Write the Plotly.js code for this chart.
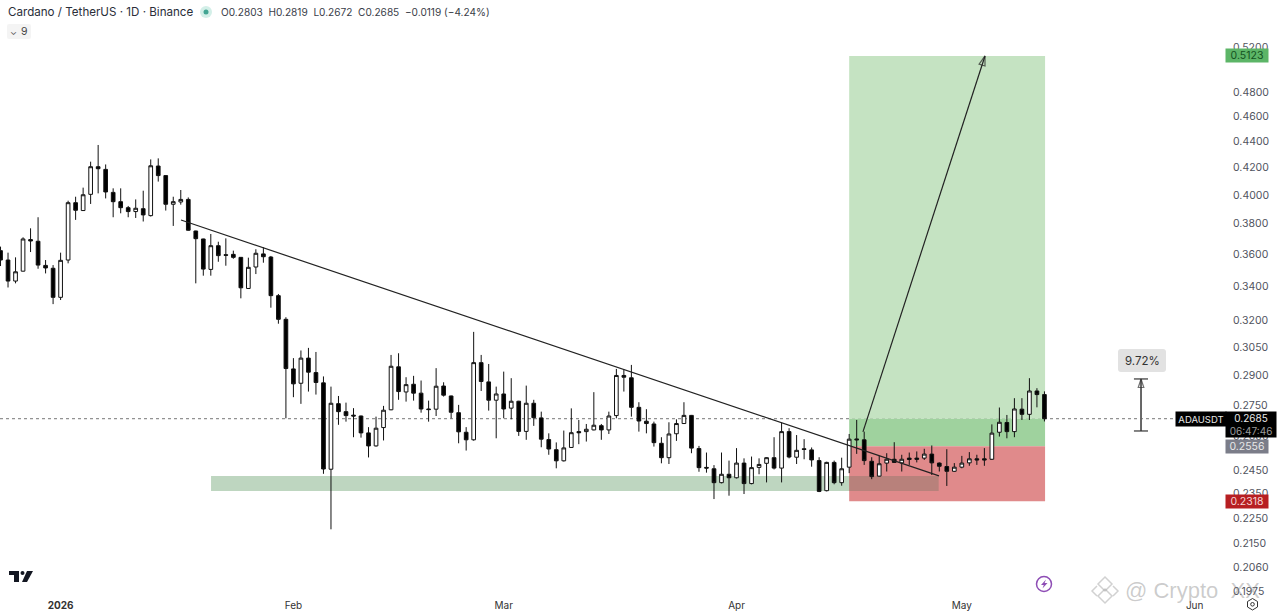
<!DOCTYPE html>
<html>
<head>
<meta charset="utf-8">
<script src="https://cdn.plot.ly/plotly-3.0.1.min.js"></script>
<style>html,body{margin:0;padding:0;background:#fff;overflow:hidden}#c{width:1280px;height:614px}</style>
</head>
<body>
<div id="c"></div>
<script>
const firstDay = '2025-12-24';
const opens = [.3622,.3562,.3431,.3492,.3694,.3683,.3528,.3510,.3333,.3562,.3945,.3890,.4004,.4206,.4186,.4018,.3952,.3910,.3883,.3903,
.3855,.4211,.4140,.3934,.3950,.3968,.3751,.3698,.3503,.3654,.3596,.3598,.3579,.3386,.3518,.3601,.3581,.3343,.3205,.2934,.2860,
.2991,.2915,.2862,.2454,.2758,.2719,.2702,.2698,.2618,.2558,.2643,.2728,.2945,.2816,.2855,.2810,.2732,.2731,.2846,.2796,
.2714,.2621,.2586,.2967,.2867,.2775,.2806,.2736,.2770,.2625,.2760,.2689,.2587,.2541,.2491,.2551,.2624,.2624,.2632,.2652,
.2632,.2700,.2900,.2888,.2740,.2673,.2660,.2570,.2505,.2614,.2662,.2701,.2546,.2462,.2456,.2396,.2432,.2417,.2481,.2392,
.2462,.2480,.2505,.2459,.2624,.2507,.2545,.2540,.2492,.2362,.2484,.2396,.2463,.2590,.2586,.2489,.2424,.2481,.2498,.2482,
.2503,.2503,.2503,.2521,.2481,.2466,.2445,.2463,.2482,.2500,.2500,.2498,.2621,.2667,.2624,.2731,.2706,.2821,.2803];
const highs = [.3648,.3609,.3579,.3709,.3769,.3844,.3562,.3530,.3609,.3959,.3987,.4052,.4244,.4372,.4223,.4047,.4047,.3922,.3968,.4030,
.4261,.4269,.4142,.3987,.4035,.3982,.3753,.3700,.3731,.3680,.3702,.3622,.3581,.3577,.3631,.3644,.3588,.3353,.3217,.2991,.3032,
.3046,.3024,.2895,.2843,.2796,.2763,.2736,.2700,.2645,.2695,.2747,.3008,.3017,.2891,.2898,.2874,.2773,.2938,.2865,.2798,
.2752,.2645,.3134,.3008,.2960,.2843,.2920,.2886,.2772,.2848,.2777,.2719,.2616,.2574,.2629,.2735,.2679,.2660,.2815,.2660,
.2719,.2934,.2932,.2955,.2765,.2731,.2671,.2598,.2668,.2682,.2765,.2703,.2558,.2528,.2472,.2528,.2492,.2548,.2502,.2510,
.2502,.2507,.2598,.2667,.2640,.2608,.2589,.2551,.2507,.2487,.2492,.2505,.2613,.2679,.2624,.2507,.2513,.2525,.2575,.2518,
.2528,.2533,.2545,.2560,.2484,.2543,.2481,.2513,.2530,.2518,.2548,.2658,.2739,.2703,.2785,.2785,.2886,.2835,.2819];
const lows = [.3524,.3392,.3417,.3490,.3613,.3507,.3478,.3293,.3317,.3541,.3826,.3888,.3936,.4011,.3975,.3844,.3871,.3844,.3839,.3815,
.3849,.4096,.3890,.3785,.3931,.3753,.3417,.3464,.3464,.3551,.3526,.3570,.3327,.3384,.3474,.3545,.3272,.3180,.2687,.2790,.2757,
.2818,.2803,.2434,.2205,.2656,.2671,.2598,.2596,.2506,.2555,.2583,.2726,.2777,.2768,.2773,.2714,.2671,.2698,.2793,.2687,
.2570,.2537,.2582,.2821,.2724,.2593,.2687,.2682,.2604,.2586,.2651,.2552,.2518,.2458,.2488,.2549,.2566,.2578,.2630,.2586,
.2613,.2687,.2818,.2695,.2624,.2616,.2555,.2480,.2477,.2581,.2660,.2525,.2443,.2439,.2327,.2393,.2341,.2414,.2348,.2389,
.2432,.2397,.2453,.2397,.2502,.2477,.2498,.2465,.2356,.2359,.2389,.2383,.2437,.2522,.2473,.2411,.2422,.2444,.2483,.2444,
.2473,.2484,.2495,.2429,.2444,.2382,.2443,.2458,.2469,.2473,.2469,.2495,.2601,.2593,.2598,.2679,.2679,.2740,.2672];
const closes = [.3562,.3431,.3488,.3698,.3685,.3530,.3512,.3333,.3560,.3945,.3892,.4001,.4206,.4191,.4021,.3952,.3910,.3883,.3906,.3860,
.4213,.4140,.3934,.3952,.3968,.3756,.3700,.3505,.3654,.3590,.3592,.3579,.3390,.3516,.3605,.3583,.3343,.3205,.2936,.2857,.2991,
.2917,.2864,.2455,.2760,.2719,.2700,.2698,.2618,.2558,.2640,.2726,.2948,.2818,.2853,.2810,.2732,.2729,.2845,.2800,.2716,
.2623,.2586,.2967,.2869,.2775,.2806,.2732,.2770,.2625,.2760,.2690,.2589,.2544,.2491,.2549,.2619,.2619,.2635,.2654,.2632,
.2698,.2900,.2891,.2740,.2674,.2662,.2573,.2505,.2613,.2662,.2701,.2548,.2461,.2459,.2396,.2432,.2417,.2481,.2392,.2461,
.2475,.2505,.2459,.2624,.2508,.2538,.2542,.2495,.2359,.2484,.2396,.2456,.2589,.2586,.2492,.2422,.2478,.2498,.2484,.2498,
.2497,.2498,.2521,.2482,.2467,.2445,.2463,.2481,.2500,.2495,.2495,.2617,.2668,.2624,.2732,.2706,.2821,.2803,.2685];

const priceTicks = [.56,.52,.48,.46,.44,.42,.40,.38,.36,.34,.32,.305,.29,.275,.26,.245,.235,.225,.215,.206,.1975];
const timeTicks = ['2026-01-01','2026-02-01','2026-03-01','2026-04-01','2026-05-01','2026-06-01'];
const timeLabels = ['<b>2026</b>','Feb','Mar','Apr','May','Jun'];

const lastPrice = 0.2685, targetPrice = 0.5123, entryPrice = 0.2556, stopPrice = 0.2318;

const W = 1280, H = 614, plotW = 1225, plotH = 594;
const px = x => x / plotW, py = y => 1 - y / plotH;
const lg = p => Math.log10(p);
const dates = opens.map((_, i) => new Date(Date.parse(firstDay + 'T00:00:00Z') + i * 864e5).toISOString().slice(0, 10));

const ink = '#111';
const candles = {
  type: 'candlestick', x: dates, open: opens, high: highs, low: lows, close: closes,
  increasing: {line: {color: ink, width: 1}, fillcolor: '#ffffff'},
  decreasing: {line: {color: ink, width: 1}, fillcolor: '#000000'},
  whiskerwidth: 0, hoverinfo: 'skip', showlegend: false
};
const arrow = {
  type: 'scatter', mode: 'lines+markers', x: ['2026-04-17 20:00', '2026-05-04 02:00'], y: [0.2623, targetPrice],
  line: {color: '#222', width: 1.2},
  marker: {symbol: ['circle', 'arrow-open'], size: [1, 10], angleref: 'previous', color: '#222', line: {color: '#222', width: 1.2}},
  hoverinfo: 'skip', showlegend: false
};
const measure = {
  type: 'scatter', mode: 'lines+markers', x: ['2026-05-24 20:40', '2026-05-24 20:40'], y: [0.2627, 0.2882],
  line: {color: '#666', width: 2},
  marker: {symbol: ['circle', 'arrow-open'], size: [1, 9], angleref: 'previous', color: '#333', line: {color: '#333', width: 1.2}},
  hoverinfo: 'skip', showlegend: false
};
const capLow = {type: 'scatter', mode: 'lines', x: ['2026-05-23 22:00', '2026-05-25 19:00'], y: [0.2627, 0.2627], line: {color: '#333', width: 1.2}, hoverinfo: 'skip', showlegend: false};
const capHigh = {type: 'scatter', mode: 'lines', x: ['2026-05-23 22:00', '2026-05-25 19:00'], y: [0.2882, 0.2882], line: {color: '#333', width: 1.2}, hoverinfo: 'skip', showlegend: false};

function rect(x0, x1, p0, p1, fill) {
  return {type: 'rect', xref: 'x', yref: 'y', x0, x1, y0: p0, y1: p1, fillcolor: fill, line: {width: 0}, layer: 'below'};
}
function pathPx(points, opt) {
  const d = points.map((p, i) => (i ? 'L' : 'M') + px(p[0]) + ',' + py(p[1])).join(' ') + (opt.open ? '' : ' Z');
  return {type: 'path', xref: 'paper', yref: 'paper', path: d, fillcolor: opt.fill || 'rgba(0,0,0,0)', line: {color: opt.stroke || 'rgba(0,0,0,0)', width: opt.w || 0}, layer: 'above'};
}
function circlePx(cx, cy, r, stroke, w) {
  return {type: 'circle', xref: 'paper', yref: 'paper', x0: px(cx - r), x1: px(cx + r), y0: py(cy + r), y1: py(cy - r), fillcolor: 'rgba(0,0,0,0)', line: {color: stroke, width: w}, layer: 'above'};
}
function roundBox(x0, y0, x1, y1, r, fill) {
  const X = px, Y = py;
  const d = `M${X(x0 + r)},${Y(y0)} L${X(x1 - r)},${Y(y0)} Q${X(x1)},${Y(y0)} ${X(x1)},${Y(y0 + r)} L${X(x1)},${Y(y1 - r)} Q${X(x1)},${Y(y1)} ${X(x1 - r)},${Y(y1)} L${X(x0 + r)},${Y(y1)} Q${X(x0)},${Y(y1)} ${X(x0)},${Y(y1 - r)} L${X(x0)},${Y(y0 + r)} Q${X(x0)},${Y(y0)} ${X(x0 + r)},${Y(y0)} Z`;
  return {type: 'path', xref: 'paper', yref: 'paper', path: d, fillcolor: fill, line: {width: 0}, layer: 'above'};
}

const shapes = [
  rect('2026-04-16', '2026-05-12 02:00', lastPrice, targetPrice, '#c5e3c2'),
  rect('2026-04-16', '2026-05-12 02:00', entryPrice, lastPrice, '#9fd29e'),
  rect('2026-04-16', '2026-05-12 02:00', stopPrice, entryPrice, '#e08a8b'),
  rect('2026-01-21 00:45', '2026-04-16', 0.2361, 0.2425, '#bed6c0'),
  rect('2026-04-16', '2026-04-27 22:00', 0.2361, 0.2425, '#b8817b'),
  {type: 'line', xref: 'paper', yref: 'y', x0: 0, x1: 1, y0: lastPrice, y1: lastPrice, line: {color: '#777', width: 1, dash: 'dot'}, layer: 'below'},
  {type: 'line', xref: 'x', yref: 'y', x0: '2026-01-17 00:45', x1: '2026-04-27 23:00', y0: 0.3825, y1: 0.2425, line: {color: '#222', width: 1.2}, layer: 'above'},
  roundBox(7, 24, 31, 39, 2, 'rgba(235,235,235,0.55)'),
  pathPx([[9, 571], [19, 571], [19, 582], [14, 582], [14, 575], [9, 575]], {fill: '#131722'}),
  pathPx([[27, 571], [33, 571], [27, 582], [22, 582]], {fill: '#131722'}),
  {type: 'circle', xref: 'paper', yref: 'paper', x0: px(20.5), x1: px(24.5), y0: py(575), y1: py(571), fillcolor: '#131722', line: {width: 0}, layer: 'above'},
  {type: 'circle', xref: 'paper', yref: 'paper', x0: px(200), x1: px(212), y0: py(18), y1: py(6), fillcolor: '#d3efe8', line: {width: 0}, layer: 'above'},
  {type: 'circle', xref: 'paper', yref: 'paper', x0: px(203.5), x1: px(208.5), y0: py(14.5), y1: py(9.5), fillcolor: '#42a593', line: {width: 0}, layer: 'above'},
  circlePx(1044, 584, 7.5, '#8e4db5', 1.5),
  pathPx([[1046, 579.5], [1041, 585], [1043.8, 585], [1042.5, 588.5], [1047.5, 583], [1044.6, 583]], {fill: '#8e4db5'}),
  pathPx([[1252.5, 598.5], [1257.5, 601.5], [1257.5, 607], [1252.5, 610], [1247.5, 607], [1247.5, 601.5]], {stroke: '#333', w: 1}),
  circlePx(1252.5, 604.3, 1.8, '#333', 1),
  pathPx([[1105, 577], [1112, 584], [1105, 591], [1098, 584]], {stroke: 'rgba(140,140,140,0.4)', w: 1.5}),
  pathPx([[1105, 589], [1112, 596], [1105, 603], [1098, 596]], {stroke: 'rgba(140,140,140,0.4)', w: 1.5}),
  pathPx([[1097, 586], [1092, 591], [1097, 596]], {stroke: 'rgba(140,140,140,0.4)', w: 1.5, open: true}),
  pathPx([[1113, 586], [1118, 591], [1113, 596]], {stroke: 'rgba(140,140,140,0.4)', w: 1.5, open: true}),
  roundBox(1118, 349, 1166, 372, 3, '#e2e2e2')
];

const uiFont = 'Inter, "Noto Sans", sans-serif';
function text(x, y, t, size, color, anchor, extra) {
  return Object.assign({xref: 'paper', yref: 'paper', x: px(x), y: py(y), text: t, showarrow: false, xanchor: anchor || 'left', yanchor: 'middle',
    font: {family: uiFont, size, color}, borderpad: 0}, extra || {});
}
function badge(price, x, w, h, bg, t, color) {
  return {xref: 'paper', yref: 'y', x: px(x), y: lg(price), text: t, showarrow: false, xanchor: 'center', yanchor: 'middle',
    width: w, height: h, bgcolor: bg, align: 'center', valign: 'middle', borderpad: 0, font: {family: uiFont, size: 10.5, color}};
}

const annotations = [
  text(7, 12, 'Cardano / TetherUS · 1D · Binance', 11.6, '#2a2e39'),
  text(220, 12, 'O0.2803  H0.2819  L0.2672  C0.2685  −0.0119 (−4.24%)', 10.1, '#3a3e49'),
  text(13, 31.5, '⌄', 9, '#555', 'center'),
  text(25, 31.5, '9', 10.5, '#444', 'center'),
  text(1142, 360.5, '9.72%', 11.5, '#333', 'center'),
  badge(targetPrice, 1247, 42, 13, '#5cb567', '0.5123', '#14521f'),
  {xref: 'paper', yref: 'paper', x: px(1251), y: py(424.5), text: '0.2685<br><span style="color:#9a9a9a">06:47:46</span>', showarrow: false, xanchor: 'center', yanchor: 'middle',
    width: 50, height: 25, bgcolor: '#000000', align: 'center', valign: 'middle', borderpad: 0, font: {family: uiFont, size: 10, color: '#e8e8e8'}},
  {xref: 'paper', yref: 'paper', x: px(1200.5), y: py(419), text: 'ADAUSDT', showarrow: false, xanchor: 'center', yanchor: 'middle',
    width: 50, height: 14, bgcolor: '#000000', align: 'center', valign: 'middle', borderpad: 0, font: {family: uiFont, size: 9.5, color: '#e8e8e8'}},
  badge(entryPrice, 1247, 42, 13, '#7b7d89', '0.2556', '#e8e8e8'),
  badge(stopPrice, 1247, 42, 13, '#b71f22', '0.2318', '#f5d5d5'),
  text(1124, 590, '@ Crypto  XX', 22, 'rgba(120,120,120,0.38)', 'left', {font: {family: 'Liberation Sans, sans-serif', size: 22, color: 'rgba(120,120,120,0.38)'}})
];

const layout = {
  width: W, height: H,
  margin: {l: 0, r: W - plotW, t: 0, b: H - plotH, pad: 0},
  paper_bgcolor: '#ffffff', plot_bgcolor: '#ffffff',
  showlegend: false, hovermode: false, dragmode: false,
  font: {family: uiFont},
  xaxis: {type: 'date', range: ['2025-12-23 22:20', '2026-06-05 01:00'], rangeslider: {visible: false},
    showgrid: false, zeroline: false, showline: false, ticks: '', ticklabelstandoff: 4,
    tickmode: 'array', tickvals: timeTicks, ticktext: timeLabels, tickangle: 0,
    tickfont: {family: uiFont, size: 10, color: '#333'}},
  yaxis: {type: 'log', side: 'right', range: [lg(0.1965), lg(0.5660)],
    showgrid: false, zeroline: false, showline: false, ticks: '', ticklabelstandoff: 7,
    tickmode: 'array', tickvals: priceTicks, ticktext: priceTicks.map(v => v.toFixed(4)),
    tickfont: {family: uiFont, size: 10.5, color: '#50535e'}},
  shapes, annotations
};
Plotly.newPlot('c', [candles, arrow, measure, capLow, capHigh], layout, {displayModeBar: false, staticPlot: true});
</script>
</body>
</html>
